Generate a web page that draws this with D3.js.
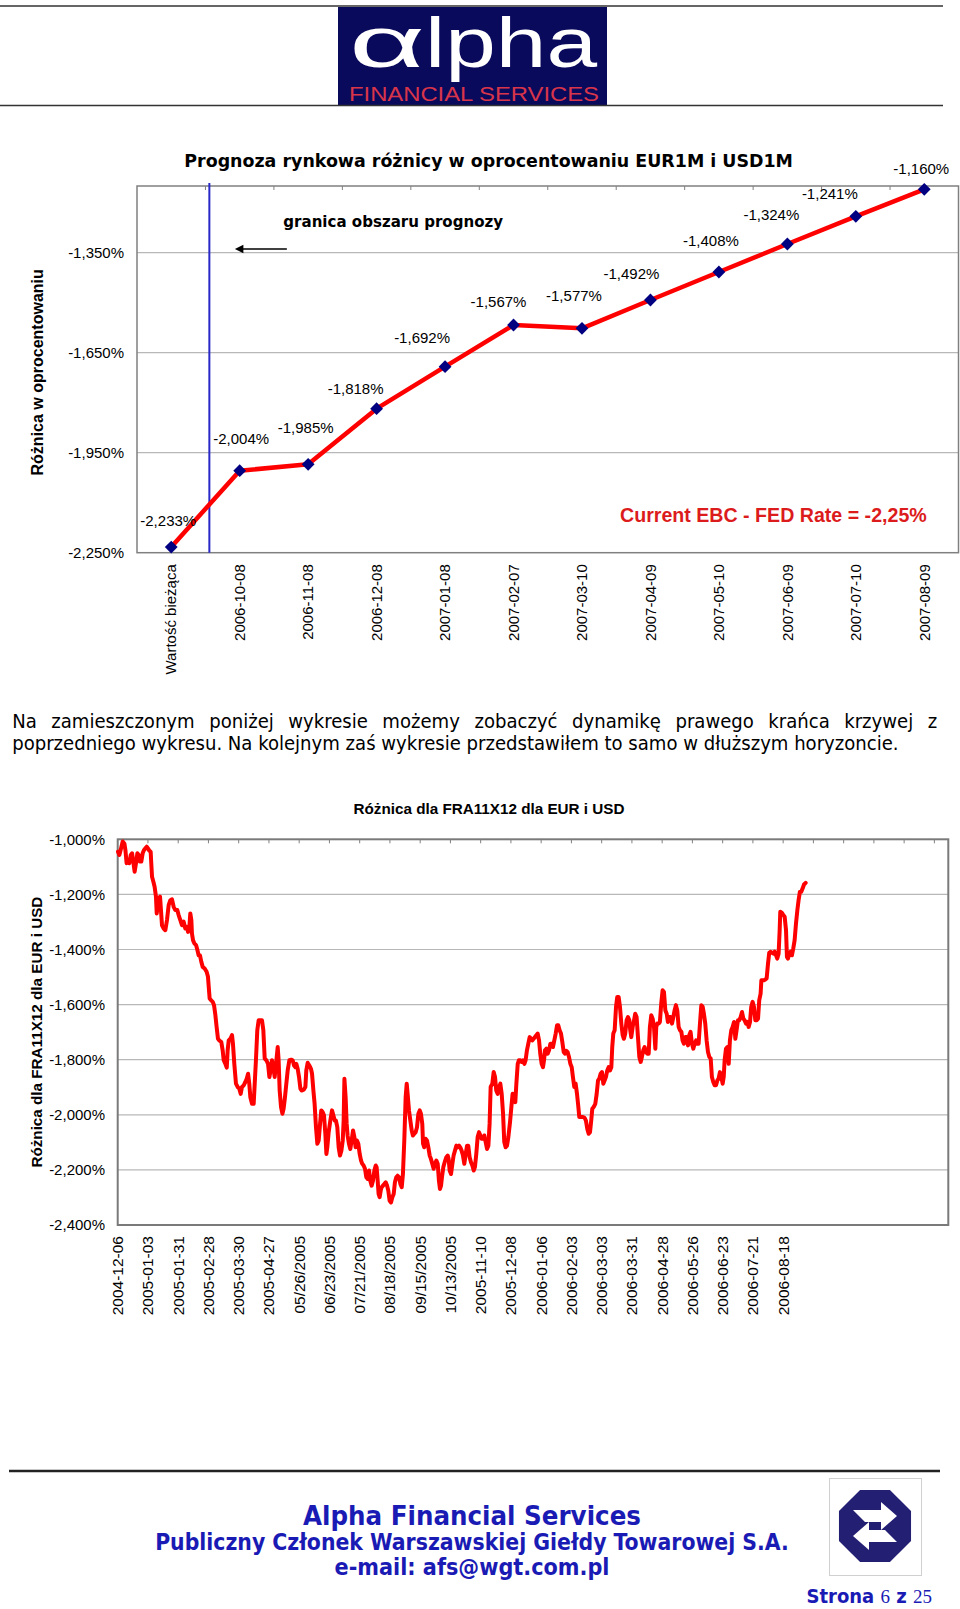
<!DOCTYPE html>
<html><head><meta charset="utf-8">
<script src="https://cdn.jsdelivr.net/npm/d3@7/dist/d3.min.js"></script>
<style>body{margin:0;background:#fff}svg{display:block}</style>
</head><body>
<svg id="page" width="960" height="1609"></svg>
<script>
// ---------- DATA ----------
const forecastCategories = ["Wartość bieżąca","2006-10-08","2006-11-08","2006-12-08","2007-01-08","2007-02-07","2007-03-10","2007-04-09","2007-05-10","2007-06-09","2007-07-10","2007-08-09"];
const forecastValues = [-2.233,-2.004,-1.985,-1.818,-1.692,-1.567,-1.577,-1.492,-1.408,-1.324,-1.241,-1.160];
const forecastTicks = [-2.25,-1.95,-1.65,-1.35];
// label nudges (layout only, px): [dx, dy] relative to the marker
const forecastLabelNudge = [[-3,-21],[1.5,-27],[-2.5,-31],[-21,-15],[-23,-24],[-15,-18],[-8,-27],[-19,-21],[-8,-26],[-16,-24],[-26,-17],[-3,-15]];

const fraTickLabels = ["2004-12-06","2005-01-03","2005-01-31","2005-02-28","2005-03-30","2005-04-27","05/26/2005","06/23/2005","07/21/2005","08/18/2005","09/15/2005","10/13/2005","2005-11-10","2005-12-08","2006-01-06","2006-02-03","2006-03-03","2006-03-31","2006-04-28","2006-05-26","2006-06-23","2006-07-21","2006-08-18"];
const fraTicks = [-2.4,-2.2,-2.0,-1.8,-1.6,-1.4,-1.2,-1.0];
// [trading day index, value %]
const fraSeries = [
[0.2,-1.045],[1.1,-1.057],[2.2,-1.033],[3.3,-1.008],[4.4,-1.015],[5.1,-1.039],[5.9,-1.087],[6.8,-1.075],[7.7,-1.087],[8.6,-1.057],[9.5,-1.051],[10.3,-1.081],[11.2,-1.118],[12.1,-1.087],[13.0,-1.051],[13.9,-1.057],[14.7,-1.081],[15.6,-1.081],[16.5,-1.051],[17.4,-1.039],[18.3,-1.033],[19.2,-1.027],[20.0,-1.033],[20.9,-1.041],[21.8,-1.045],[22.2,-1.087],[22.7,-1.136],[23.6,-1.154],[24.4,-1.172],[25.3,-1.208],[25.8,-1.269],[26.4,-1.245],[27.1,-1.215],[28.0,-1.208],[28.6,-1.257],[29.3,-1.312],[30.4,-1.324],[31.5,-1.330],[32.6,-1.293],[33.7,-1.239],[34.8,-1.221],[35.9,-1.218],[37.0,-1.245],[38.1,-1.257],[39.4,-1.257],[40.3,-1.275],[41.4,-1.293],[42.5,-1.312],[43.6,-1.299],[44.7,-1.324],[45.8,-1.318],[46.5,-1.336],[47.4,-1.318],[48.0,-1.269],[48.7,-1.293],[49.1,-1.342],[49.8,-1.366],[50.7,-1.378],[51.8,-1.384],[52.7,-1.402],[53.5,-1.421],[54.4,-1.421],[55.3,-1.445],[56.2,-1.463],[57.5,-1.469],[58.8,-1.481],[59.7,-1.499],[60.2,-1.536],[60.8,-1.578],[61.7,-1.584],[62.8,-1.590],[63.7,-1.602],[64.6,-1.639],[65.4,-1.681],[66.3,-1.724],[67.2,-1.730],[68.5,-1.736],[69.4,-1.766],[70.1,-1.802],[71.2,-1.815],[72.1,-1.829],[72.7,-1.766],[73.4,-1.730],[74.5,-1.724],[75.6,-1.711],[76.2,-1.742],[77.1,-1.815],[78.2,-1.887],[79.3,-1.899],[80.4,-1.905],[81.3,-1.924],[82.2,-1.899],[83.3,-1.893],[84.4,-1.881],[85.3,-1.869],[86.2,-1.851],[87.0,-1.887],[87.7,-1.936],[88.8,-1.960],[89.9,-1.960],[90.6,-1.887],[91.4,-1.802],[92.3,-1.693],[93.2,-1.657],[94.3,-1.657],[95.4,-1.657],[96.3,-1.693],[97.2,-1.796],[98.3,-1.802],[99.4,-1.815],[100.3,-1.863],[101.1,-1.839],[102.0,-1.802],[102.9,-1.827],[103.8,-1.863],[104.7,-1.815],[105.8,-1.754],[106.4,-1.802],[107.1,-1.912],[108.0,-1.972],[108.9,-1.996],[109.7,-1.978],[110.6,-1.936],[111.5,-1.887],[112.4,-1.839],[113.5,-1.802],[114.8,-1.800],[115.7,-1.802],[116.6,-1.821],[117.5,-1.827],[118.1,-1.815],[119.0,-1.833],[119.9,-1.863],[120.8,-1.905],[121.6,-1.912],[123.0,-1.909],[124.1,-1.899],[124.7,-1.839],[125.6,-1.811],[126.7,-1.821],[127.8,-1.833],[128.5,-1.851],[129.4,-1.912],[130.2,-1.960],[131.1,-2.045],[132.0,-2.105],[132.9,-2.093],[133.8,-2.033],[134.6,-1.984],[135.5,-1.990],[136.4,-2.002],[137.3,-2.069],[138.0,-2.142],[138.6,-2.118],[139.5,-2.063],[140.6,-2.021],[141.7,-1.984],[142.6,-2.002],[143.5,-2.021],[144.3,-2.021],[145.2,-2.045],[146.1,-2.118],[147.0,-2.148],[147.9,-2.130],[148.8,-2.093],[149.4,-2.021],[149.9,-1.869],
[150.7,-1.936],[151.4,-2.033],[152.0,-2.075],[152.9,-2.105],[153.8,-2.124],[154.7,-2.093],[155.6,-2.057],[156.5,-2.081],[157.3,-2.118],[158.2,-2.093],[159.1,-2.105],[160.0,-2.142],[160.9,-2.166],[161.7,-2.178],[162.6,-2.184],[163.5,-2.196],[164.4,-2.227],[165.3,-2.233],[166.2,-2.202],[167.0,-2.239],[167.9,-2.257],[168.8,-2.239],[169.7,-2.202],[170.6,-2.184],[171.2,-2.190],[171.9,-2.239],[172.5,-2.287],[173.2,-2.299],[173.9,-2.275],[174.5,-2.263],[175.4,-2.257],[176.3,-2.251],[177.2,-2.245],[178.1,-2.257],[178.9,-2.275],[179.8,-2.312],[180.7,-2.318],[181.6,-2.299],[182.5,-2.287],[183.3,-2.245],[184.2,-2.227],[185.1,-2.221],[186.0,-2.227],[186.9,-2.251],[187.8,-2.263],[188.6,-2.215],[189.5,-2.093],[190.4,-1.936],[191.1,-1.887],[191.7,-1.924],[192.6,-1.984],[193.5,-2.021],[194.4,-2.057],[195.2,-2.075],[196.1,-2.069],[197.0,-2.063],[197.9,-2.045],[198.8,-1.996],[199.7,-1.984],[200.5,-1.996],[201.4,-2.033],[201.9,-2.105],[202.7,-2.118],[203.6,-2.087],[204.5,-2.093],[205.4,-2.118],[206.3,-2.148],[207.1,-2.160],[208.0,-2.178],[208.9,-2.196],[209.8,-2.178],[210.7,-2.166],[211.6,-2.178],[212.4,-2.239],[213.1,-2.269],[213.8,-2.257],[214.4,-2.227],[215.3,-2.190],[216.2,-2.172],[217.3,-2.154],[218.2,-2.148],[218.8,-2.160],[219.5,-2.202],[220.4,-2.215],[221.3,-2.178],[222.1,-2.148],[223.0,-2.130],[223.9,-2.112],[224.8,-2.118],[225.7,-2.112],[226.5,-2.118],[227.4,-2.130],[228.3,-2.148],[229.2,-2.178],[230.1,-2.142],[231.0,-2.112],[231.8,-2.112],[232.7,-2.154],[233.6,-2.172],[234.5,-2.184],[235.4,-2.202],[236.2,-2.190],[237.1,-2.142],[238.0,-2.081],[238.9,-2.063],[239.8,-2.075],[240.6,-2.087],[241.5,-2.087],[242.4,-2.075],[243.3,-2.099],[244.2,-2.124],[245.1,-2.112],[245.9,-2.033],[246.6,-1.899],[247.7,-1.887],[248.6,-1.845],[249.5,-1.863],[250.3,-1.912],[251.2,-1.924],[252.1,-1.899],[253.0,-1.887],[253.9,-1.924],[254.8,-1.996],[255.6,-2.099],[256.5,-2.118],[257.4,-2.112],[258.3,-2.081],[259.4,-2.027],[260.3,-1.972],[261.1,-1.924],[262.0,-1.936],[262.9,-1.954],[263.6,-1.887],[264.5,-1.815],[265.3,-1.802],[266.2,-1.802],[267.1,-1.808],[268.0,-1.802],[268.9,-1.815],[269.7,-1.802],[270.6,-1.766],[271.5,-1.742],[272.4,-1.718],[273.3,-1.724],[274.1,-1.730],[275.0,-1.724],[275.9,-1.718],[276.8,-1.711],[277.7,-1.705],[278.6,-1.730],[279.4,-1.778],[280.3,-1.815],[281.2,-1.827],[281.9,-1.802],[282.5,-1.766],[283.4,-1.760],[284.3,-1.778],[285.2,-1.766],[286.1,-1.742],[286.9,-1.742],[287.8,-1.754],[288.7,-1.730],[289.6,-1.705],[290.5,-1.675],[291.3,-1.675],[292.2,-1.693],[293.1,-1.705],[294.0,-1.736],[294.9,-1.772],[295.7,-1.778],[296.6,-1.768],[297.5,-1.772],[298.4,-1.790],[299.3,-1.815],[300.2,-1.827],[301.0,-1.863],[301.9,-1.899],[302.8,-1.887],[303.7,-1.924],[304.6,-1.972],[305.2,-2.008],[306.1,-2.008],
[307.6,-2.008],[308.7,-2.011],[309.6,-2.021],[310.5,-2.051],[311.4,-2.069],[312.3,-2.063],[313.1,-2.021],[313.8,-1.978],[314.7,-1.972],[315.8,-1.960],[316.7,-1.924],[317.6,-1.875],[318.4,-1.869],[319.3,-1.851],[320.2,-1.845],[321.1,-1.887],[322.0,-1.875],[322.8,-1.863],[323.7,-1.839],[324.6,-1.827],[325.5,-1.839],[326.4,-1.827],[327.0,-1.754],[327.7,-1.705],[328.6,-1.693],[329.5,-1.608],[330.3,-1.572],[331.2,-1.572],[332.1,-1.608],[333.0,-1.669],[333.9,-1.711],[334.7,-1.724],[335.6,-1.705],[336.5,-1.657],[337.4,-1.645],[338.3,-1.657],[338.9,-1.693],[339.6,-1.718],[340.5,-1.681],[341.4,-1.657],[342.2,-1.633],[343.1,-1.645],[344.0,-1.718],[344.9,-1.790],[345.8,-1.808],[346.6,-1.790],[347.5,-1.766],[348.4,-1.754],[349.3,-1.772],[350.2,-1.778],[351.1,-1.778],[351.9,-1.681],[352.8,-1.639],[353.7,-1.651],[354.6,-1.681],[355.5,-1.760],[356.1,-1.681],[356.8,-1.669],[357.7,-1.669],[358.5,-1.663],[359.4,-1.596],[360.3,-1.548],[361.2,-1.554],[362.1,-1.621],[363.0,-1.633],[363.8,-1.663],[364.7,-1.645],[365.6,-1.645],[366.5,-1.669],[367.4,-1.645],[368.2,-1.621],[369.1,-1.602],[370.0,-1.621],[370.9,-1.681],[371.8,-1.693],[372.7,-1.699],[373.5,-1.730],[374.4,-1.742],[375.3,-1.718],[376.2,-1.718],[377.1,-1.748],[377.9,-1.711],[378.8,-1.699],[379.7,-1.742],[380.6,-1.760],[381.5,-1.742],[382.4,-1.730],[383.2,-1.742],[384.1,-1.742],[385.0,-1.669],[385.9,-1.602],[386.8,-1.608],[387.6,-1.633],[388.5,-1.669],[389.4,-1.730],[390.3,-1.772],[391.2,-1.790],[392.1,-1.796],[392.9,-1.863],[393.8,-1.881],[394.7,-1.893],[395.6,-1.893],[396.5,-1.875],[397.3,-1.869],[398.2,-1.845],[399.1,-1.863],[400.0,-1.887],[400.7,-1.863],[401.3,-1.802],[402.2,-1.760],[403.1,-1.754],[404.0,-1.815],[404.8,-1.730],[405.7,-1.693],[406.6,-1.681],[407.5,-1.663],[408.4,-1.724],[409.2,-1.693],[410.1,-1.657],[411.0,-1.657],[411.9,-1.645],[412.8,-1.627],[413.7,-1.651],[414.5,-1.657],[415.4,-1.669],[416.3,-1.663],[417.2,-1.681],[418.1,-1.663],[418.9,-1.608],[419.8,-1.590],[420.7,-1.608],[421.6,-1.657],[422.5,-1.657],[423.4,-1.651],[424.2,-1.584],[425.1,-1.560],[425.6,-1.512],[426.4,-1.512],[427.3,-1.512],[428.2,-1.509],[429.1,-1.505],[430.0,-1.451],[430.8,-1.412],[431.7,-1.408],[432.6,-1.412],[433.5,-1.415],[434.4,-1.408],[435.3,-1.421],[436.1,-1.433],[437.0,-1.415],[437.7,-1.330],[438.1,-1.263],[439.2,-1.267],[440.1,-1.275],[441.0,-1.281],[441.9,-1.330],[442.5,-1.427],[443.2,-1.433],[444.1,-1.415],[444.9,-1.408],[445.8,-1.421],[446.7,-1.396],[447.6,-1.366],[448.5,-1.305],[449.4,-1.257],[450.2,-1.221],[451.1,-1.190],[452.0,-1.190],[452.9,-1.178],[453.8,-1.164],[454.9,-1.158]
];
const fraDayDomain = [0, 549.2];
const fraLabelEvery = 20;
const fraTopTickCount = 27;

const paragraphLines = [
  "Na zamieszczonym poniżej wykresie możemy zobaczyć dynamikę prawego krańca krzywej z",
  "poprzedniego wykresu. Na kolejnym zaś wykresie przedstawiłem to samo w dłuższym horyzoncie."
];

// ---------- HELPERS ----------
const svg = d3.select("#page");
const pct = v => v.toFixed(3).replace(".", ",") + "%";
const ARIAL = "'Liberation Sans', Arial, sans-serif";
const VERD = "'DejaVu Sans', Verdana, sans-serif";
const TAH = "'DejaVu Sans Condensed', 'DejaVu Sans', Tahoma, sans-serif";
function fitWidth(sel, w) {
  const n = sel.node();
  const cur = n.getComputedTextLength();
  const fs = parseFloat(sel.attr("font-size"));
  sel.attr("font-size", (fs * w / cur).toFixed(2));
  return sel;
}

// ---------- HEADER ----------
svg.append("line").attr("x1",0).attr("x2",943).attr("y1",6).attr("y2",6).attr("stroke","#333").attr("stroke-width",1.5);
svg.append("rect").attr("x",338).attr("y",7).attr("width",269).attr("height",98).attr("fill","#0a0a5c");
svg.append("line").attr("x1",0).attr("x2",943).attr("y1",105.5).attr("y2",105.5).attr("stroke","#333").attr("stroke-width",1.5);
svg.append("text").attr("x",349).attr("y",66.5).attr("font-family",ARIAL).attr("font-size",72)
  .attr("fill","#fff").attr("textLength",76).attr("lengthAdjust","spacingAndGlyphs").text("α");
svg.append("text").attr("x",425).attr("y",67).attr("font-family",ARIAL).attr("font-size",70)
  .attr("fill","#fff").attr("textLength",172).attr("lengthAdjust","spacingAndGlyphs").text("lpha");
svg.append("text").attr("x",349).attr("y",100.5).attr("font-family",ARIAL).attr("font-size",20)
  .attr("fill","#d8354a").attr("textLength",250).attr("lengthAdjust","spacingAndGlyphs").text("FINANCIAL SERVICES");

// ---------- CHART 1 ----------
const c1 = {left:137, right:958.5, top:186, bottom:552.7};
const x1 = d3.scaleBand().domain(forecastCategories).range([c1.left, c1.right]);
const y1 = d3.scaleLinear().domain([-2.25, -1.15]).range([c1.bottom, c1.top]);
const g1 = svg.append("g");

fitWidth(g1.append("text").attr("x",184.3).attr("y",166.7).attr("font-family",VERD).attr("font-weight","bold")
  .attr("font-size",16).attr("fill","#000").text("Prognoza rynkowa różnicy w oprocentowaniu EUR1M i USD1M"), 609);

g1.selectAll(".grid1").data(forecastTicks.slice(1)).join("line")
  .attr("x1",c1.left).attr("x2",c1.right).attr("y1",d=>y1(d)).attr("y2",d=>y1(d))
  .attr("stroke","#b8b8b8").attr("stroke-width",1.2);
g1.append("rect").attr("x",c1.left).attr("y",c1.top).attr("width",c1.right-c1.left).attr("height",c1.bottom-c1.top)
  .attr("fill","none").attr("stroke","#808080").attr("stroke-width",1.5);
g1.selectAll(".tt1").data(forecastCategories.slice(1)).join("line")
  .attr("x1",d=>x1(d)).attr("x2",d=>x1(d)).attr("y1",c1.top).attr("y2",c1.top+4)
  .attr("stroke","#808080").attr("stroke-width",1);

g1.selectAll(".yl1").data(forecastTicks).join("text")
  .attr("x",124).attr("y",d=>y1(d)).attr("dy","0.35em").attr("text-anchor","end")
  .attr("font-family",ARIAL).attr("font-size",15).attr("fill","#000").text(pct);

g1.append("text").attr("transform",`translate(42.5,${(c1.top+c1.bottom)/2 + 3}) rotate(-90)`)
  .attr("text-anchor","middle").attr("font-family",ARIAL).attr("font-weight","bold").attr("font-size",16)
  .attr("fill","#000").text("Różnica w oprocentowaniu");

g1.selectAll(".xl1").data(forecastCategories).join("text")
  .attr("transform",d=>`translate(${x1(d)+x1.bandwidth()/2},${c1.bottom+11.5}) rotate(-90)`)
  .attr("text-anchor","end").attr("dy","0.35em")
  .attr("font-family",ARIAL).attr("font-size",15).attr("fill","#000").text(d=>d);

// forecast boundary
const blueX = x1(forecastCategories[1]) + 3.9;
g1.append("line").attr("x1",blueX).attr("x2",blueX).attr("y1",c1.top-3).attr("y2",c1.bottom)
  .attr("stroke","#2828c8").attr("stroke-width",2);
const arrowY = y1(-1.35) - 3.7;
g1.append("line").attr("x1",blueX+77.5).attr("x2",blueX+33).attr("y1",arrowY).attr("y2",arrowY)
  .attr("stroke","#000").attr("stroke-width",1.6);
g1.append("path").attr("d",`M${blueX+25.5},${arrowY} L${blueX+34},${arrowY-4.2} L${blueX+34},${arrowY+4.2} Z`).attr("fill","#000");
g1.append("text").attr("x",283.3).attr("y",227.3).attr("font-family",VERD).attr("font-weight","bold")
  .attr("font-size",15).attr("fill","#000").text("granica obszaru prognozy").call(s=>fitWidth(s,220));

g1.append("text").attr("x",620).attr("y",521.7).attr("font-family",ARIAL).attr("font-weight","bold")
  .attr("font-size",19.5).attr("fill","#dc1c1c").text("Current EBC - FED Rate = -2,25%").call(s=>fitWidth(s,307));

const cx = (d,i) => x1(forecastCategories[i]) + x1.bandwidth()/2;
const line1 = d3.line().x((d,i)=>cx(d,i)).y(d=>y1(d));
g1.append("path").attr("d",line1(forecastValues)).attr("fill","none").attr("stroke","#ff0000")
  .attr("stroke-width",4.5).attr("stroke-linejoin","round");
g1.selectAll(".mk1").data(forecastValues).join("path")
  .attr("d",d3.symbol().type(d3.symbolSquare).size(82))
  .attr("transform",(d,i)=>`translate(${cx(d,i)},${y1(d)}) rotate(45)`)
  .attr("fill","#000080");
g1.selectAll(".dl1").data(forecastValues).join("text")
  .attr("x",(d,i)=>cx(d,i)+forecastLabelNudge[i][0]).attr("y",(d,i)=>y1(d)+forecastLabelNudge[i][1])
  .attr("text-anchor","middle").attr("font-family",ARIAL).attr("font-size",15).attr("fill","#000").text(pct);

// ---------- PARAGRAPH ----------
const p2 = svg.append("text").attr("x",12.2).attr("y",750).attr("font-family",TAH).attr("font-size",16)
  .attr("fill","#000").text(paragraphLines[1]);
fitWidth(p2, 887);
const pfs = p2.attr("font-size");
const p1 = svg.append("text").attr("x",12.2).attr("y",727.5).attr("font-family",TAH).attr("font-size",pfs)
  .attr("fill","#000").text(paragraphLines[0]);
{
  const nat = p1.node().getComputedTextLength();
  const spaces = paragraphLines[0].split(" ").length - 1;
  p1.attr("word-spacing", ((925 - nat) / spaces).toFixed(3));
}

// ---------- CHART 2 ----------
const c2 = {left:117.7, right:948.3, top:839.3, bottom:1225};
const x2 = d3.scaleLinear().domain(fraDayDomain).range([c2.left, c2.right]);
const y2 = d3.scaleLinear().domain([-2.4, -1.0]).range([c2.bottom, c2.top]);
const g2 = svg.append("g");

fitWidth(g2.append("text").attr("x",489).attr("y",814).attr("text-anchor","middle").attr("font-family",ARIAL)
  .attr("font-weight","bold").attr("font-size",14).attr("fill","#000").text("Różnica dla FRA11X12 dla EUR i USD"), 271);

g2.selectAll(".grid2").data(fraTicks.slice(1,-1)).join("line")
  .attr("x1",c2.left).attr("x2",c2.right).attr("y1",d=>y2(d)).attr("y2",d=>y2(d))
  .attr("stroke","#b8b8b8").attr("stroke-width",1.2);
g2.append("rect").attr("x",c2.left).attr("y",c2.top).attr("width",c2.right-c2.left).attr("height",c2.bottom-c2.top)
  .attr("fill","none").attr("stroke","#7a7a7a").attr("stroke-width",2);
g2.selectAll(".tt2").data(d3.range(1, fraTopTickCount+1).map(k=>k*fraLabelEvery)).join("line")
  .attr("x1",d=>x2(d)).attr("x2",d=>x2(d)).attr("y1",c2.top).attr("y2",c2.top+4)
  .attr("stroke","#808080").attr("stroke-width",1);

g2.selectAll(".yl2").data(fraTicks).join("text")
  .attr("x",105).attr("y",d=>y2(d)).attr("dy","0.35em").attr("text-anchor","end")
  .attr("font-family",ARIAL).attr("font-size",15).attr("fill","#000").text(pct);

fitWidth(g2.append("text").attr("transform",`translate(41.5,${(c2.top+c2.bottom)/2}) rotate(-90)`)
  .attr("text-anchor","middle").attr("font-family",ARIAL).attr("font-weight","bold").attr("font-size",14)
  .attr("fill","#000").text("Różnica dla FRA11X12 dla EUR i USD"), 271);

g2.selectAll(".xl2").data(fraTickLabels).join("text")
  .attr("transform",(d,i)=>`translate(${x2(i*fraLabelEvery)},${c2.bottom+11}) rotate(-90)`)
  .attr("text-anchor","end").attr("dy","0.35em")
  .attr("font-family",ARIAL).attr("font-size",15.5).attr("fill","#000").text(d=>d);

const line2 = d3.line().x(d=>x2(d[0])).y(d=>y2(d[1]));
g2.append("path").attr("d",line2(fraSeries)).attr("fill","none").attr("stroke","#ff0000")
  .attr("stroke-width",4).attr("stroke-linejoin","round").attr("stroke-linecap","round");

// ---------- FOOTER ----------
svg.append("line").attr("x1",9).attr("x2",940).attr("y1",1471).attr("y2",1471).attr("stroke","#222").attr("stroke-width",2.5);
const FB = "#1a1ab4";
fitWidth(svg.append("text").attr("x",472).attr("y",1525).attr("text-anchor","middle").attr("font-family",TAH)
  .attr("font-weight","bold").attr("font-size",23).attr("fill",FB).text("Alpha Financial Services"), 338);
fitWidth(svg.append("text").attr("x",472).attr("y",1550).attr("text-anchor","middle").attr("font-family",TAH)
  .attr("font-weight","bold").attr("font-size",18).attr("fill",FB).text("Publiczny Członek Warszawskiej Giełdy Towarowej S.A."), 634);
fitWidth(svg.append("text").attr("x",472).attr("y",1575).attr("text-anchor","middle").attr("font-family",TAH)
  .attr("font-weight","bold").attr("font-size",18).attr("fill",FB).text("e-mail: afs@wgt.com.pl"), 275);

// WGT emblem
svg.append("rect").attr("x",829.5).attr("y",1478.5).attr("width",92).attr("height",97)
  .attr("fill","#fff").attr("stroke","#d0d0d0").attr("stroke-width",1);
{
  const ocx = 875, ocy = 1526, r = 39;
  const pts = d3.range(8).map(k => {
    const a = Math.PI/8 + k*Math.PI/4;
    return [ocx + r*Math.cos(a), ocy + r*Math.sin(a)];
  });
  svg.append("path").attr("d","M"+pts.map(p=>p.join(",")).join("L")+"Z").attr("fill","#231f73");
  svg.append("path").attr("fill","#fff")
    .attr("d",`M${ocx-22},${ocy-16} L${ocx+6},${ocy-16} L${ocx+6},${ocy-24} L${ocx+22},${ocy-10} L${ocx+6},${ocy+4} L${ocx+6},${ocy-4} L${ocx-10},${ocy-4} Z`);
  svg.append("path").attr("fill","#fff")
    .attr("d",`M${ocx+22},${ocy+16} L${ocx-6},${ocy+16} L${ocx-6},${ocy+24} L${ocx-22},${ocy+10} L${ocx-6},${ocy-4} L${ocx-6},${ocy+4} L${ocx+10},${ocy+4} Z`);
}
{
  const t = svg.append("text").attr("x",932).attr("y",1603).attr("text-anchor","end").attr("fill",FB);
  t.append("tspan").attr("font-family",TAH).attr("font-weight","bold").attr("font-size",20).text("Strona ");
  t.append("tspan").attr("font-family","'Liberation Serif', serif").attr("font-size",19).text("6");
  t.append("tspan").attr("font-family",TAH).attr("font-weight","bold").attr("font-size",20).text(" z ");
  t.append("tspan").attr("font-family","'Liberation Serif', serif").attr("font-size",19).text("25");
}
</script>
</body></html>
